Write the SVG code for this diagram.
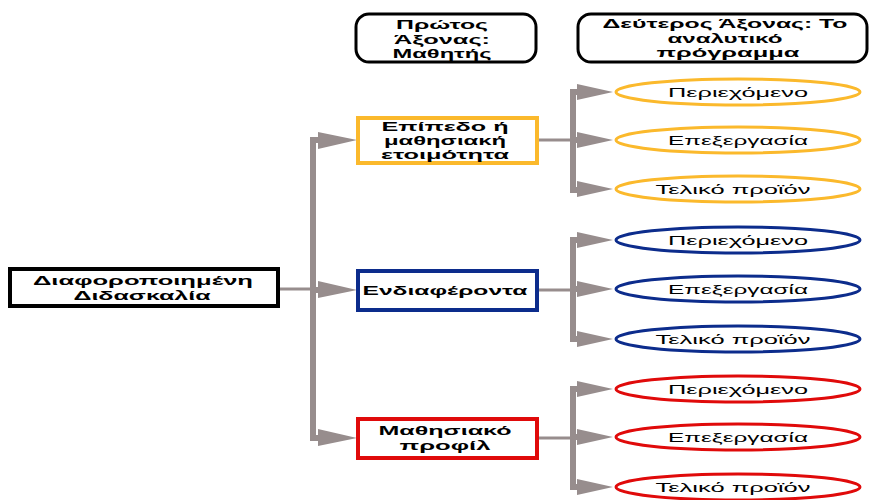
<svg xmlns="http://www.w3.org/2000/svg" width="870" height="500" viewBox="0 0 870 500">
<style>
text{font-family:"Liberation Sans",Arial,sans-serif;fill:#000;text-anchor:middle}
.b{font-weight:bold;font-size:13px}
.e{font-size:13px}
.hdr{fill:#fff;stroke:#000;stroke-width:3}
.box{fill:#fff;stroke-width:4}
.ell{fill:#fff;stroke-width:3}
.y{stroke:#FBB92C}.bl{stroke:#0C2C8C}.r{stroke:#E00A0A}
.ln{stroke:#978D8D;fill:none}
.ah{fill:#978D8D}
</style>
<rect width="870" height="500" fill="#fff"/>
<g id="connectors">
<line class="ln" x1="278" y1="289" x2="313" y2="289" stroke-width="3"/>
<polyline class="ln" points="320,140 313,140 313,438 320,438" stroke-width="6"/>
<line class="ln" x1="313" y1="290" x2="320" y2="290" stroke-width="6"/>
<polygon class="ah" points="318,132 318,149 357,140"/>
<polygon class="ah" points="318,281 318,298 357,290"/>
<polygon class="ah" points="318,429 318,446 357,438"/>
<line class="ln" x1="537" y1="140" x2="573" y2="140" stroke-width="3"/>
<polyline class="ln" points="579,92 573,92 573,190 579,190" stroke-width="6"/>
<line class="ln" x1="573" y1="140" x2="579" y2="140" stroke-width="6"/>
<polygon class="ah" points="577,84 577,100 613,92"/>
<polygon class="ah" points="577,132 577,148 613,140"/>
<polygon class="ah" points="577,181 577,197 613,189"/>
<line class="ln" x1="537" y1="290" x2="573" y2="290" stroke-width="3"/>
<polyline class="ln" points="579,240 573,240 573,339 579,339" stroke-width="6"/>
<line class="ln" x1="573" y1="289" x2="579" y2="289" stroke-width="6"/>
<polygon class="ah" points="577,232 577,248 613,240"/>
<polygon class="ah" points="577,281 577,297 613,289"/>
<polygon class="ah" points="577,331 577,347 613,339"/>
<line class="ln" x1="537" y1="438" x2="573" y2="438" stroke-width="3"/>
<polyline class="ln" points="579,389 573,389 573,487 579,487" stroke-width="6"/>
<line class="ln" x1="573" y1="437" x2="579" y2="437" stroke-width="6"/>
<polygon class="ah" points="577,381 577,397 613,389"/>
<polygon class="ah" points="577,429 577,445 613,437"/>
<polygon class="ah" points="577,479 577,495 613,487"/>
</g>
<g id="header1">
<rect class="hdr" x="356" y="14" width="180" height="48" rx="13"/>
<text class="b" x="442" y="29" textLength="92" lengthAdjust="spacingAndGlyphs">Πρώτος</text>
<text class="b" x="442" y="44" textLength="96" lengthAdjust="spacingAndGlyphs">Άξονας:</text>
<text class="b" x="442" y="58" textLength="99" lengthAdjust="spacingAndGlyphs">Μαθητής</text>
</g>
<g id="header2">
<rect class="hdr" x="578" y="14" width="289" height="48" rx="13"/>
<text class="b" x="725" y="28" textLength="245" lengthAdjust="spacingAndGlyphs">Δεύτερος Άξονας: Το</text>
<text class="b" x="725" y="43" textLength="115" lengthAdjust="spacingAndGlyphs">αναλυτικό</text>
<text class="b" x="728" y="57" textLength="143" lengthAdjust="spacingAndGlyphs">πρόγραμμα</text>
</g>
<g id="main">
<rect x="10" y="269" width="268" height="37" fill="#fff" stroke="#000" stroke-width="4"/>
<text class="b" x="143" y="285" textLength="220" lengthAdjust="spacingAndGlyphs">Διαφοροποιημένη</text>
<text class="b" x="142" y="300" textLength="137" lengthAdjust="spacingAndGlyphs">Διδασκαλία</text>
</g>
<g id="readiness">
<rect class="box y" x="358" y="118" width="179" height="45"/>
<text class="b" x="445" y="131" textLength="127" lengthAdjust="spacingAndGlyphs">Επίπεδο ή</text>
<text class="b" x="445" y="145" textLength="122" lengthAdjust="spacingAndGlyphs">μαθησιακή</text>
<text class="b" x="445" y="159" textLength="128" lengthAdjust="spacingAndGlyphs">ετοιμότητα</text>
</g>
<g id="interests">
<rect class="box bl" x="358" y="271" width="179" height="39"/>
<text class="b" x="445" y="295" textLength="165" lengthAdjust="spacingAndGlyphs">Ενδιαφέροντα</text>
</g>
<g id="profile">
<rect class="box r" x="358" y="419" width="179" height="39"/>
<text class="b" x="445" y="435" textLength="133" lengthAdjust="spacingAndGlyphs">Μαθησιακό</text>
<text class="b" x="445" y="450" textLength="91" lengthAdjust="spacingAndGlyphs">προφίλ</text>
</g>
<g id="y1"><ellipse class="ell y" cx="738" cy="92" rx="122" ry="13"/><text class="e" x="738" y="97" textLength="140" lengthAdjust="spacingAndGlyphs">Περιεχόμενο</text></g>
<g id="y2"><ellipse class="ell y" cx="738" cy="140" rx="122" ry="13"/><text class="e" x="738" y="145" textLength="140" lengthAdjust="spacingAndGlyphs">Επεξεργασία</text></g>
<g id="y3"><ellipse class="ell y" cx="738" cy="189" rx="122" ry="13"/><text class="e" x="733" y="194" textLength="155" lengthAdjust="spacingAndGlyphs">Τελικό προϊόν</text></g>
<g id="b1"><ellipse class="ell bl" cx="738" cy="240" rx="122" ry="13"/><text class="e" x="738" y="245" textLength="140" lengthAdjust="spacingAndGlyphs">Περιεχόμενο</text></g>
<g id="b2"><ellipse class="ell bl" cx="738" cy="289" rx="122" ry="13"/><text class="e" x="738" y="294" textLength="140" lengthAdjust="spacingAndGlyphs">Επεξεργασία</text></g>
<g id="b3"><ellipse class="ell bl" cx="738" cy="339" rx="122" ry="13"/><text class="e" x="733" y="344" textLength="155" lengthAdjust="spacingAndGlyphs">Τελικό προϊόν</text></g>
<g id="r1"><ellipse class="ell r" cx="738" cy="389" rx="122" ry="13"/><text class="e" x="738" y="394" textLength="140" lengthAdjust="spacingAndGlyphs">Περιεχόμενο</text></g>
<g id="r2"><ellipse class="ell r" cx="738" cy="437" rx="122" ry="13"/><text class="e" x="738" y="442" textLength="140" lengthAdjust="spacingAndGlyphs">Επεξεργασία</text></g>
<g id="r3"><ellipse class="ell r" cx="738" cy="487" rx="122" ry="13"/><text class="e" x="733" y="492" textLength="155" lengthAdjust="spacingAndGlyphs">Τελικό προϊόν</text></g>
</svg>
